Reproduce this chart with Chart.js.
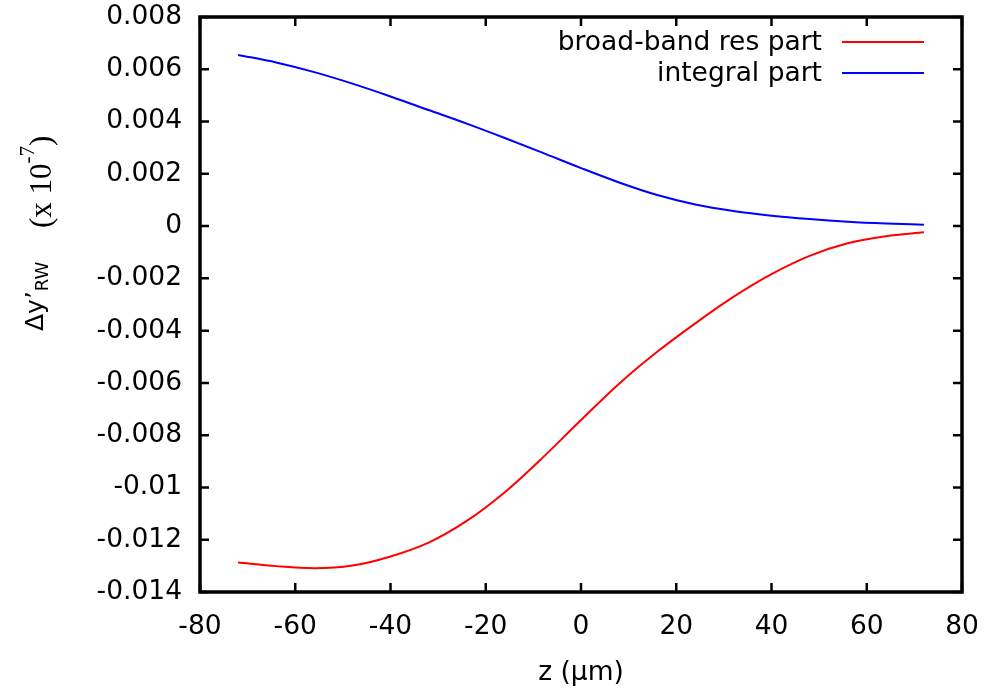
<!DOCTYPE html>
<html>
<head>
<meta charset="utf-8">
<script src="https://cdn.jsdelivr.net/npm/chart.js@4/dist/chart.umd.min.js"></script>
<style>
  body { margin: 0; background: #fff; }
  canvas { display: block; }
</style>
</head>
<body>
<canvas id="rw-chart" width="985" height="690"></canvas>
<script>
// longitudinal position z (um)
const zValues = [-72, -64, -56, -48, -40, -32, -24, -16, -8, 0, 8, 16, 24, 32, 40, 48, 56, 64, 72];

// kick contributions (x 1e-7)
const broadBandRes = [-0.01287, -0.01301, -0.01309, -0.01299, -0.01264, -0.01211, -0.01128, -0.01018,
  -0.00885, -0.00742, -0.00603, -0.00481, -0.00372, -0.00271, -0.00184, -0.00114, -0.00066, -0.00039, -0.00024];
const integralPart = [0.00655, 0.00626, 0.00589, 0.00545, 0.00496, 0.00444, 0.00392, 0.00337,
  0.0028, 0.00222, 0.00167, 0.00119, 0.00083, 0.00058, 0.0004, 0.00027, 0.00017, 0.0001, 0.00005];

const seriesLabels = ['broad-band res part', 'integral part'];
const seriesColors = ['#ff0000', '#0000ff'];

const xTickValues = [-80, -60, -40, -20, 0, 20, 40, 60, 80];
const yTickValues = [-0.014, -0.012, -0.01, -0.008, -0.006, -0.004, -0.002, 0, 0.002, 0.004, 0.006, 0.008];

const FONT = '"DejaVu Sans", sans-serif';
const TICK_LEN = 9;

function toPoints(values) {
  return zValues.map((z, i) => ({ x: z, y: values[i] }));
}

// keep the plot box fixed: no extra room for overhanging labels
function dropScalePadding(scale) {
  scale.paddingTop = 0;
  scale.paddingBottom = 0;
  scale.paddingLeft = 0;
  scale.paddingRight = 0;
}

// box around the plot with inward ticks on every side
const frameTicks = {
  id: 'frameTicks',
  afterDatasetsDraw(chart) {
    const { ctx, chartArea: a, scales } = chart;
    ctx.save();
    ctx.strokeStyle = '#000';
    ctx.lineWidth = 2.5;
    ctx.beginPath();
    scales.x.ticks.forEach(t => {
      const px = scales.x.getPixelForValue(t.value);
      ctx.moveTo(px, a.bottom);
      ctx.lineTo(px, a.bottom - TICK_LEN);
      ctx.moveTo(px, a.top);
      ctx.lineTo(px, a.top + TICK_LEN);
    });
    scales.y.ticks.forEach(t => {
      const py = scales.y.getPixelForValue(t.value);
      ctx.moveTo(a.left, py);
      ctx.lineTo(a.left + TICK_LEN, py);
      ctx.moveTo(a.right, py);
      ctx.lineTo(a.right - TICK_LEN, py);
    });
    ctx.stroke();
    ctx.lineWidth = 3.5;
    ctx.strokeRect(a.left, a.top, a.right - a.left, a.bottom - a.top);
    ctx.restore();
  }
};

// key in the top right corner: label first, then a line sample
const keyBox = {
  id: 'keyBox',
  afterDraw(chart) {
    const { ctx, chartArea: a } = chart;
    ctx.save();
    ctx.font = '26.5px ' + FONT;
    ctx.textAlign = 'right';
    ctx.textBaseline = 'middle';
    chart.data.datasets.forEach((ds, i) => {
      const y = a.top + 25 + i * 31;
      ctx.fillStyle = '#000';
      ctx.fillText(ds.label, a.right - 140, y + 1);
      ctx.strokeStyle = ds.borderColor;
      ctx.lineWidth = 2;
      ctx.beginPath();
      ctx.moveTo(a.right - 120, y);
      ctx.lineTo(a.right - 38, y);
      ctx.stroke();
    });
    ctx.restore();
  }
};

// rotated y title with subscript and exponent
const yTitle = {
  id: 'yTitle',
  afterDraw(chart) {
    const ctx = chart.ctx;
    ctx.save();
    ctx.fillStyle = '#000';
    ctx.textAlign = 'left';
    ctx.textBaseline = 'alphabetic';

    ctx.save();
    ctx.translate(43, 331);
    ctx.rotate(-Math.PI / 2);
    ctx.font = '25px ' + FONT;
    ctx.fillText('\u0394y\u2019', 0, 0);
    let pos = ctx.measureText('\u0394y\u2019').width;
    ctx.font = '18px ' + FONT;
    ctx.fillText('RW', pos, 5);
    ctx.restore();

    ctx.save();
    ctx.translate(51, 228);
    ctx.rotate(-Math.PI / 2);
    ctx.font = '31px "Liberation Serif", serif';
    ctx.fillText('(x 10', 0, 0);
    pos = ctx.measureText('(x 10').width;
    ctx.font = '21px "Liberation Serif", serif';
    ctx.fillText('-7', pos, -17);
    pos += ctx.measureText('-7').width;
    ctx.font = '31px "Liberation Serif", serif';
    ctx.fillText(')', pos, 0);
    ctx.restore();

    ctx.restore();
  }
};

Chart.defaults.color = '#000';
Chart.defaults.font.family = FONT;
Chart.defaults.font.size = 26.5;

const datasets = [broadBandRes, integralPart].map((values, i) => ({
  label: seriesLabels[i],
  data: toPoints(values),
  borderColor: seriesColors[i],
  borderWidth: 2,
  pointRadius: 0,
  cubicInterpolationMode: 'monotone',
  fill: false
}));

new Chart(document.getElementById('rw-chart').getContext('2d'), {
  type: 'line',
  data: { datasets: datasets },
  options: {
    responsive: false,
    devicePixelRatio: 1,
    animation: false,
    layout: { padding: { top: 17, right: 23, left: 0, bottom: 0 } },
    plugins: {
      legend: { display: false },
      tooltip: { enabled: false }
    },
    scales: {
      x: {
        type: 'linear',
        min: -80,
        max: 80,
        afterBuildTicks: scale => { scale.ticks = xTickValues.map(v => ({ value: v })); },
        afterFit: scale => { scale.height = 98; dropScalePadding(scale); },
        grid: { display: false, drawTicks: false },
        border: { display: false },
        ticks: { padding: 19, maxRotation: 0, autoSkip: false },
        title: {
          display: true,
          text: 'z (\u03bcm)',
          padding: { top: 0, bottom: 1 }
        }
      },
      y: {
        type: 'linear',
        min: -0.014,
        max: 0.008,
        afterBuildTicks: scale => { scale.ticks = yTickValues.map(v => ({ value: v })); },
        afterFit: scale => { scale.width = 200; dropScalePadding(scale); },
        grid: { display: false, drawTicks: false },
        border: { display: false },
        ticks: {
          padding: 18,
          autoSkip: false,
          callback: v => String(Number(v.toFixed(3)))
        }
      }
    }
  },
  plugins: [frameTicks, keyBox, yTitle]
});
</script>
</body>
</html>
